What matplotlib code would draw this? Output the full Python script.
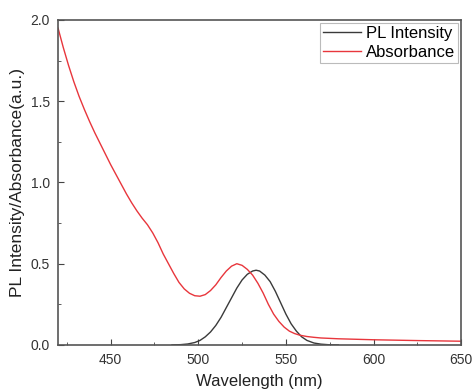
import matplotlib.pyplot as plt
from matplotlib.ticker import MultipleLocator

plt.rcParams['font.family'] = ['Liberation Sans', 'DejaVu Sans']

abs_wl = [420, 423, 426, 429, 432, 435, 438, 441, 444, 447, 450, 453, 456,
          459, 462, 465, 468, 471, 474, 477, 480, 483, 486, 489, 492, 495,
          498, 501, 504, 507, 510, 513, 516, 519, 522, 525, 528, 531, 534,
          537, 540, 543, 546, 549, 552, 555, 558, 562, 566, 570, 580, 600,
          625, 650]
abs_val = [1.95, 1.83, 1.72, 1.62, 1.53, 1.45, 1.375, 1.305, 1.24, 1.175,
           1.11, 1.05, 0.99, 0.93, 0.875, 0.825, 0.78, 0.74, 0.69, 0.63, 0.56,
           0.50, 0.44, 0.385, 0.345, 0.318, 0.303, 0.30, 0.31, 0.335, 0.37,
           0.415, 0.455, 0.485, 0.50, 0.49, 0.465, 0.43, 0.38, 0.32, 0.25,
           0.19, 0.145, 0.11, 0.085, 0.07, 0.06, 0.052, 0.047, 0.043, 0.038,
           0.032, 0.027, 0.023]

pl_wl = [485, 490, 494, 498, 501, 504, 507, 510, 513, 516, 519, 522, 525,
         528, 531, 533, 535, 538, 541, 544, 547, 550, 553, 556, 559, 562,
         566, 570, 575, 580]
pl_val = [0.0, 0.002, 0.006, 0.015, 0.028, 0.05, 0.08, 0.12, 0.17, 0.23,
          0.29, 0.35, 0.40, 0.435, 0.455, 0.46, 0.455, 0.43, 0.39, 0.33,
          0.26, 0.19, 0.13, 0.085, 0.05, 0.028, 0.012, 0.005, 0.001, 0.0]

fig = plt.figure(figsize=(4.72, 3.92), dpi=100)
ax = fig.add_axes([0.123, 0.12, 0.854, 0.829])

ax.plot(pl_wl, pl_val, color='#3a3a3a', lw=1.0, label='PL Intensity')
ax.plot(abs_wl, abs_val, color='#e8363c', lw=1.0, label='Absorbance')

ax.set_xlim(420, 650)
ax.set_ylim(0, 2.0)
ax.xaxis.set_major_locator(MultipleLocator(50))
ax.xaxis.set_minor_locator(MultipleLocator(25))
ax.yaxis.set_major_locator(MultipleLocator(0.5))
ax.yaxis.set_minor_locator(MultipleLocator(0.25))
ax.tick_params(which='both', direction='in', colors='#444444', labelsize=10,
               labelcolor='#333333')
ax.tick_params(which='major', length=4, pad=6)
ax.tick_params(which='minor', length=2.5)
for s in ax.spines.values():
    s.set_color('#555555')
    s.set_linewidth(1.2)

ax.set_xlabel('Wavelength (nm)', fontsize=12, color='#222222', labelpad=5)
ax.set_ylabel('PL Intensity/Absorbance(a.u.)', fontsize=12.5, color='#222222',
              labelpad=4)

leg = ax.legend(loc='upper right', fontsize=12, frameon=True, fancybox=False,
                borderpad=0.17, handlelength=2.3, handletextpad=0.3,
                labelspacing=0.25, borderaxespad=0.2, edgecolor='#aaaaaa')
leg.get_frame().set_linewidth(0.8)

fig.savefig('out.png', dpi=100)
